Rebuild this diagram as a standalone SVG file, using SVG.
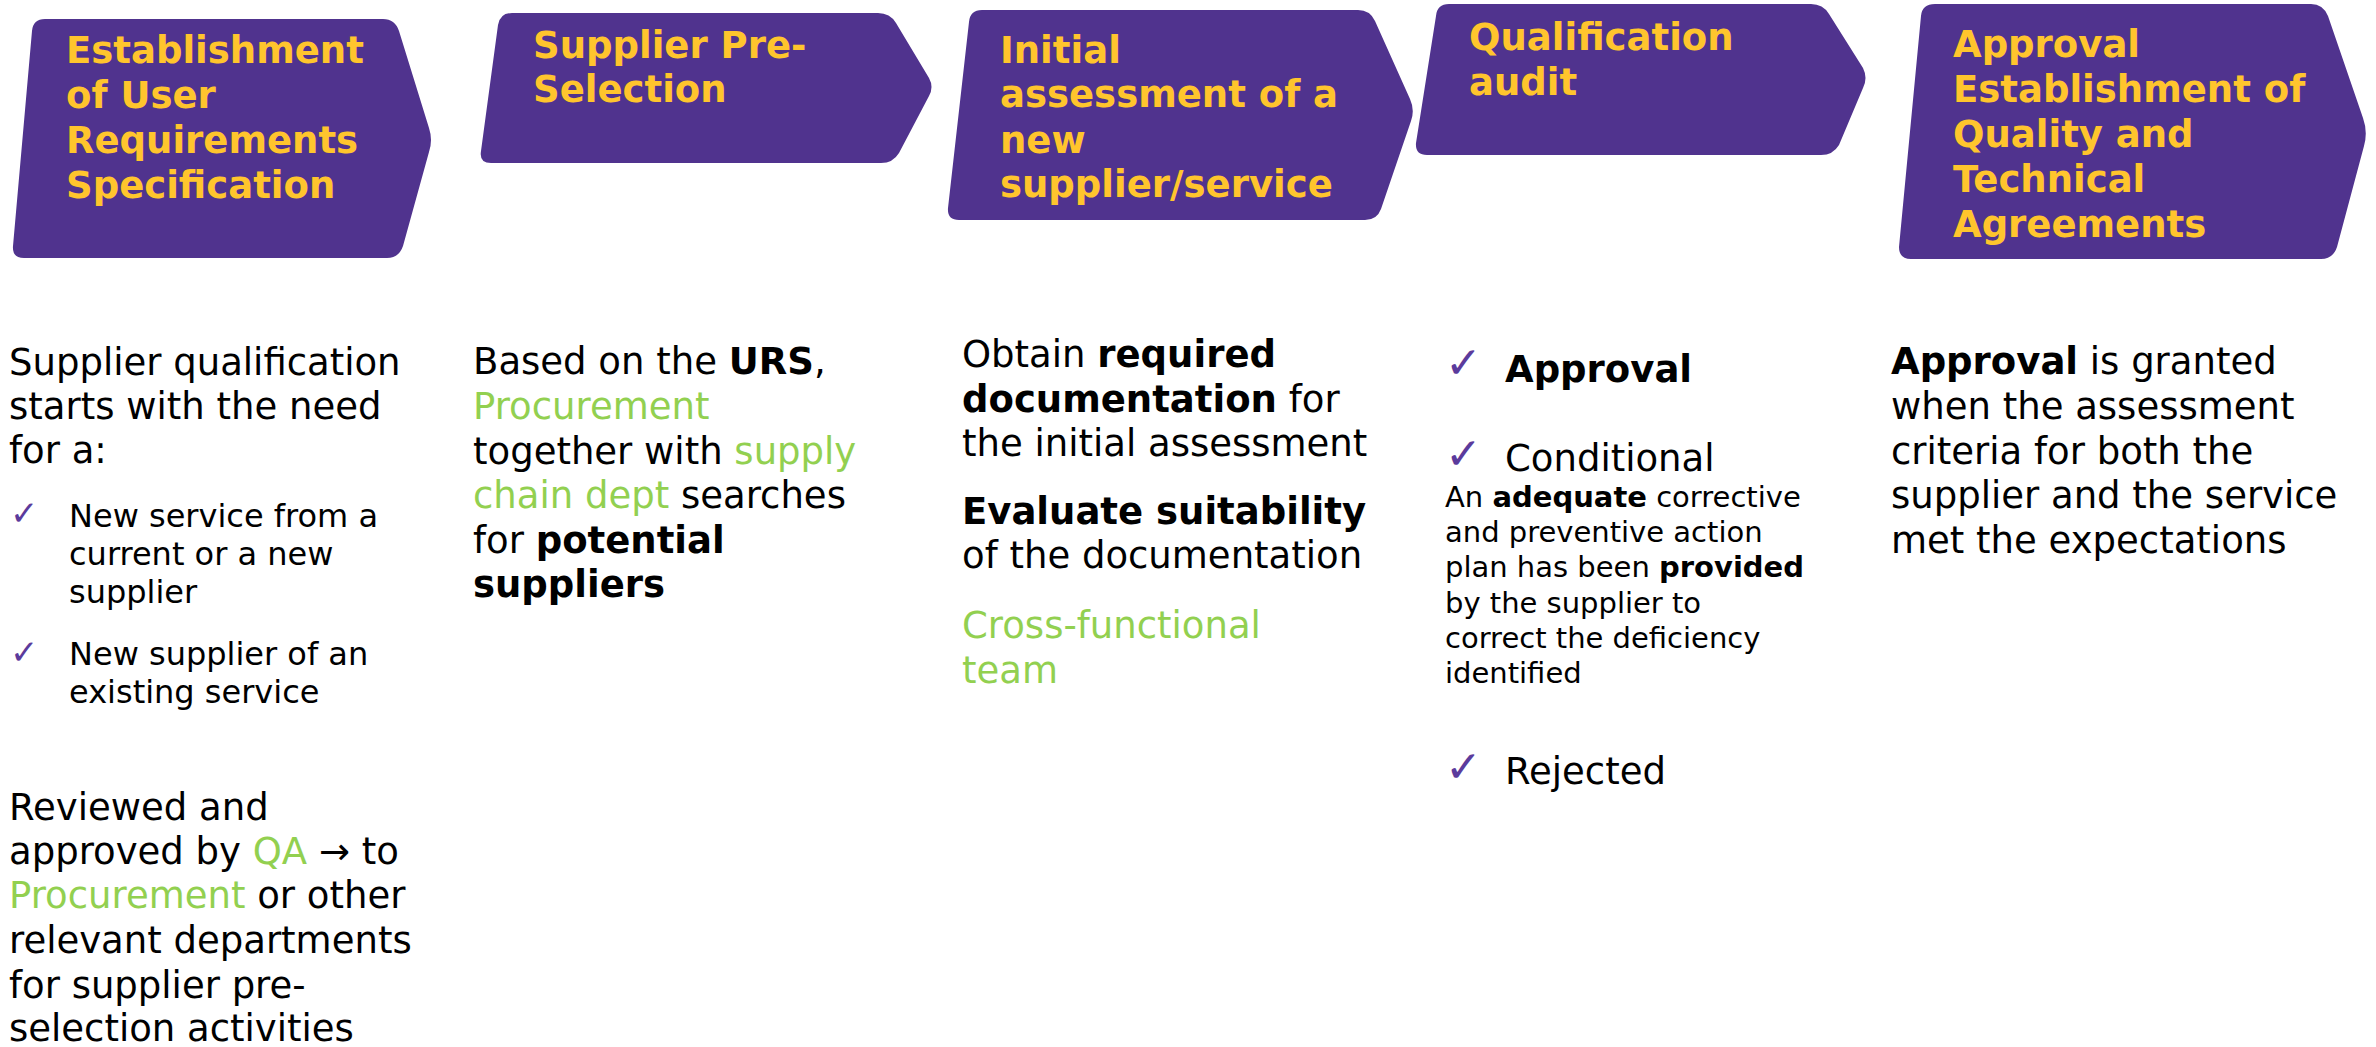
<svg xmlns="http://www.w3.org/2000/svg" width="2376" height="1047" viewBox="0 0 2376 1047">
<style>
.shape{fill:#50338E}
.title{font-family:"DejaVu Sans",Verdana,sans-serif;font-weight:bold;font-size:37px;fill:#FFC52D}
.body{font-family:"DejaVu Sans",Verdana,sans-serif;font-size:37px;fill:#000}
.small{font-family:"DejaVu Sans",Verdana,sans-serif;font-size:32px;fill:#000}
.note{font-family:"DejaVu Sans",Verdana,sans-serif;font-size:29px;fill:#000}
.b{font-weight:bold}
.g{fill:#92D050}
.chk{font-family:"DejaVu Sans",sans-serif;fill:#5B3B9C}
</style>
<rect width="2376" height="1047" fill="#fff"/>
<g id="connectors"></g>
<g id="step1">
<path class="shape" d="M 45,19 L 383,19 Q 395,19 399,31 L 429,128 Q 433,140 429,152 L 403,246 Q 399,258 387,258 L 24,258 Q 12,258 13,246 L 32,31 Q 33,19 45,19 Z"/>
<text class="title"><tspan x="66" y="63">Establishment</tspan><tspan x="66" y="108">of User</tspan><tspan x="66" y="153">Requirements</tspan><tspan x="66" y="198">Specification</tspan></text>
</g>
<g id="step2">
<path class="shape" d="M 512,13 L 878,13 Q 890,13 896,23 L 929,78 Q 934,87 929,96 L 899,153 Q 893,163 881,163 L 491,163 Q 479,163 481,151 L 498,25 Q 500,13 512,13 Z"/>
<text class="title"><tspan x="533" y="58">Supplier Pre-</tspan><tspan x="533" y="102">Selection</tspan></text>
</g>
<g id="step3">
<path class="shape" d="M 982,10 L 1358,10 Q 1370,10 1375,21 L 1410,99 Q 1415,110 1411,121 L 1381,209 Q 1377,220 1365,220 L 959,220 Q 947,220 948,208 L 969,22 Q 970,10 982,10 Z"/>
<text class="title"><tspan x="1000" y="63">Initial</tspan><tspan x="1000" y="107">assessment of a</tspan><tspan x="1000" y="153">new</tspan><tspan x="1000" y="197">supplier/service</tspan></text>
</g>
<g id="step4">
<path class="shape" d="M 1449,4 L 1811,4 Q 1823,4 1829,14 L 1863,68 Q 1868,78 1863,88 L 1839,145 Q 1833,155 1821,155 L 1427,155 Q 1415,155 1416,143 L 1436,16 Q 1437,4 1449,4 Z"/>
<text class="title"><tspan x="1469" y="50">Qualification</tspan><tspan x="1469" y="95">audit</tspan></text>
</g>
<g id="step5">
<path class="shape" d="M 1935,4 L 2311,4 Q 2323,4 2328,16 L 2363,118 Q 2368,132 2364,146 L 2337,247 Q 2333,259 2321,259 L 1911,259 Q 1899,259 1899,247 L 1921,16 Q 1922,4 1935,4 Z"/>
<text class="title"><tspan x="1953" y="57">Approval</tspan><tspan x="1953" y="102">Establishment of</tspan><tspan x="1953" y="147">Quality and</tspan><tspan x="1953" y="192">Technical</tspan><tspan x="1953" y="237">Agreements</tspan></text>
</g>
<g id="text1">
<text class="body"><tspan x="9" y="375">Supplier qualification</tspan><tspan x="9" y="419">starts with the need</tspan><tspan x="9" y="463">for a:</tspan></text>
<text class="chk" x="10" y="525" font-size="34">✓</text>
<text class="small"><tspan x="69" y="527">New service from a</tspan><tspan x="69" y="565">current or a new</tspan><tspan x="69" y="603">supplier</tspan></text>
<text class="chk" x="10" y="664" font-size="34">✓</text>
<text class="small"><tspan x="69" y="665">New supplier of an</tspan><tspan x="69" y="703">existing service</tspan></text>
<text class="body"><tspan x="9" y="820">Reviewed and</tspan><tspan x="9" y="864">approved by <tspan class="g">QA</tspan> → to</tspan><tspan x="9" y="908"><tspan class="g">Procurement</tspan> or other</tspan><tspan x="9" y="953">relevant departments</tspan><tspan x="9" y="998">for supplier pre-</tspan><tspan x="9" y="1041">selection activities</tspan></text>
</g>
<g id="text2">
<text class="body"><tspan x="473" y="374">Based on the <tspan class="b">URS</tspan>,</tspan><tspan x="473" y="419" class="g">Procurement</tspan><tspan x="473" y="464">together with <tspan class="g">supply</tspan></tspan><tspan x="473" y="508"><tspan class="g">chain dept</tspan> searches</tspan><tspan x="473" y="553">for <tspan class="b">potential</tspan></tspan><tspan x="473" y="597" class="b">suppliers</tspan></text>
</g>
<g id="text3">
<text class="body"><tspan x="962" y="367">Obtain <tspan class="b">required</tspan></tspan><tspan x="962" y="412"><tspan class="b">documentation</tspan> for</tspan><tspan x="962" y="456">the initial assessment</tspan><tspan x="962" y="524" class="b">Evaluate suitability</tspan><tspan x="962" y="568">of the documentation</tspan><tspan x="962" y="638" class="g">Cross-functional</tspan><tspan x="962" y="683" class="g">team</tspan></text>
</g>
<g id="text4">
<text class="chk" x="1445" y="378" font-size="44">✓</text>
<text class="body b" x="1505" y="382">Approval</text>
<text class="chk" x="1445" y="469" font-size="44">✓</text>
<text class="body" x="1505" y="471">Conditional</text>
<text class="note"><tspan x="1445" y="507">An <tspan class="b">adequate</tspan> corrective</tspan><tspan x="1445" y="542">and preventive action</tspan><tspan x="1445" y="577">plan has been <tspan class="b">provided</tspan></tspan><tspan x="1445" y="613">by the supplier to</tspan><tspan x="1445" y="648">correct the deficiency</tspan><tspan x="1445" y="683">identified</tspan></text>
<text class="chk" x="1445" y="782" font-size="44">✓</text>
<text class="body" x="1505" y="784">Rejected</text>
</g>
<g id="text5">
<text class="body"><tspan x="1891" y="374"><tspan class="b">Approval</tspan> is granted</tspan><tspan x="1891" y="419">when the assessment</tspan><tspan x="1891" y="464">criteria for both the</tspan><tspan x="1891" y="508">supplier and the service</tspan><tspan x="1891" y="553">met the expectations</tspan></text>
</g>
</svg>
